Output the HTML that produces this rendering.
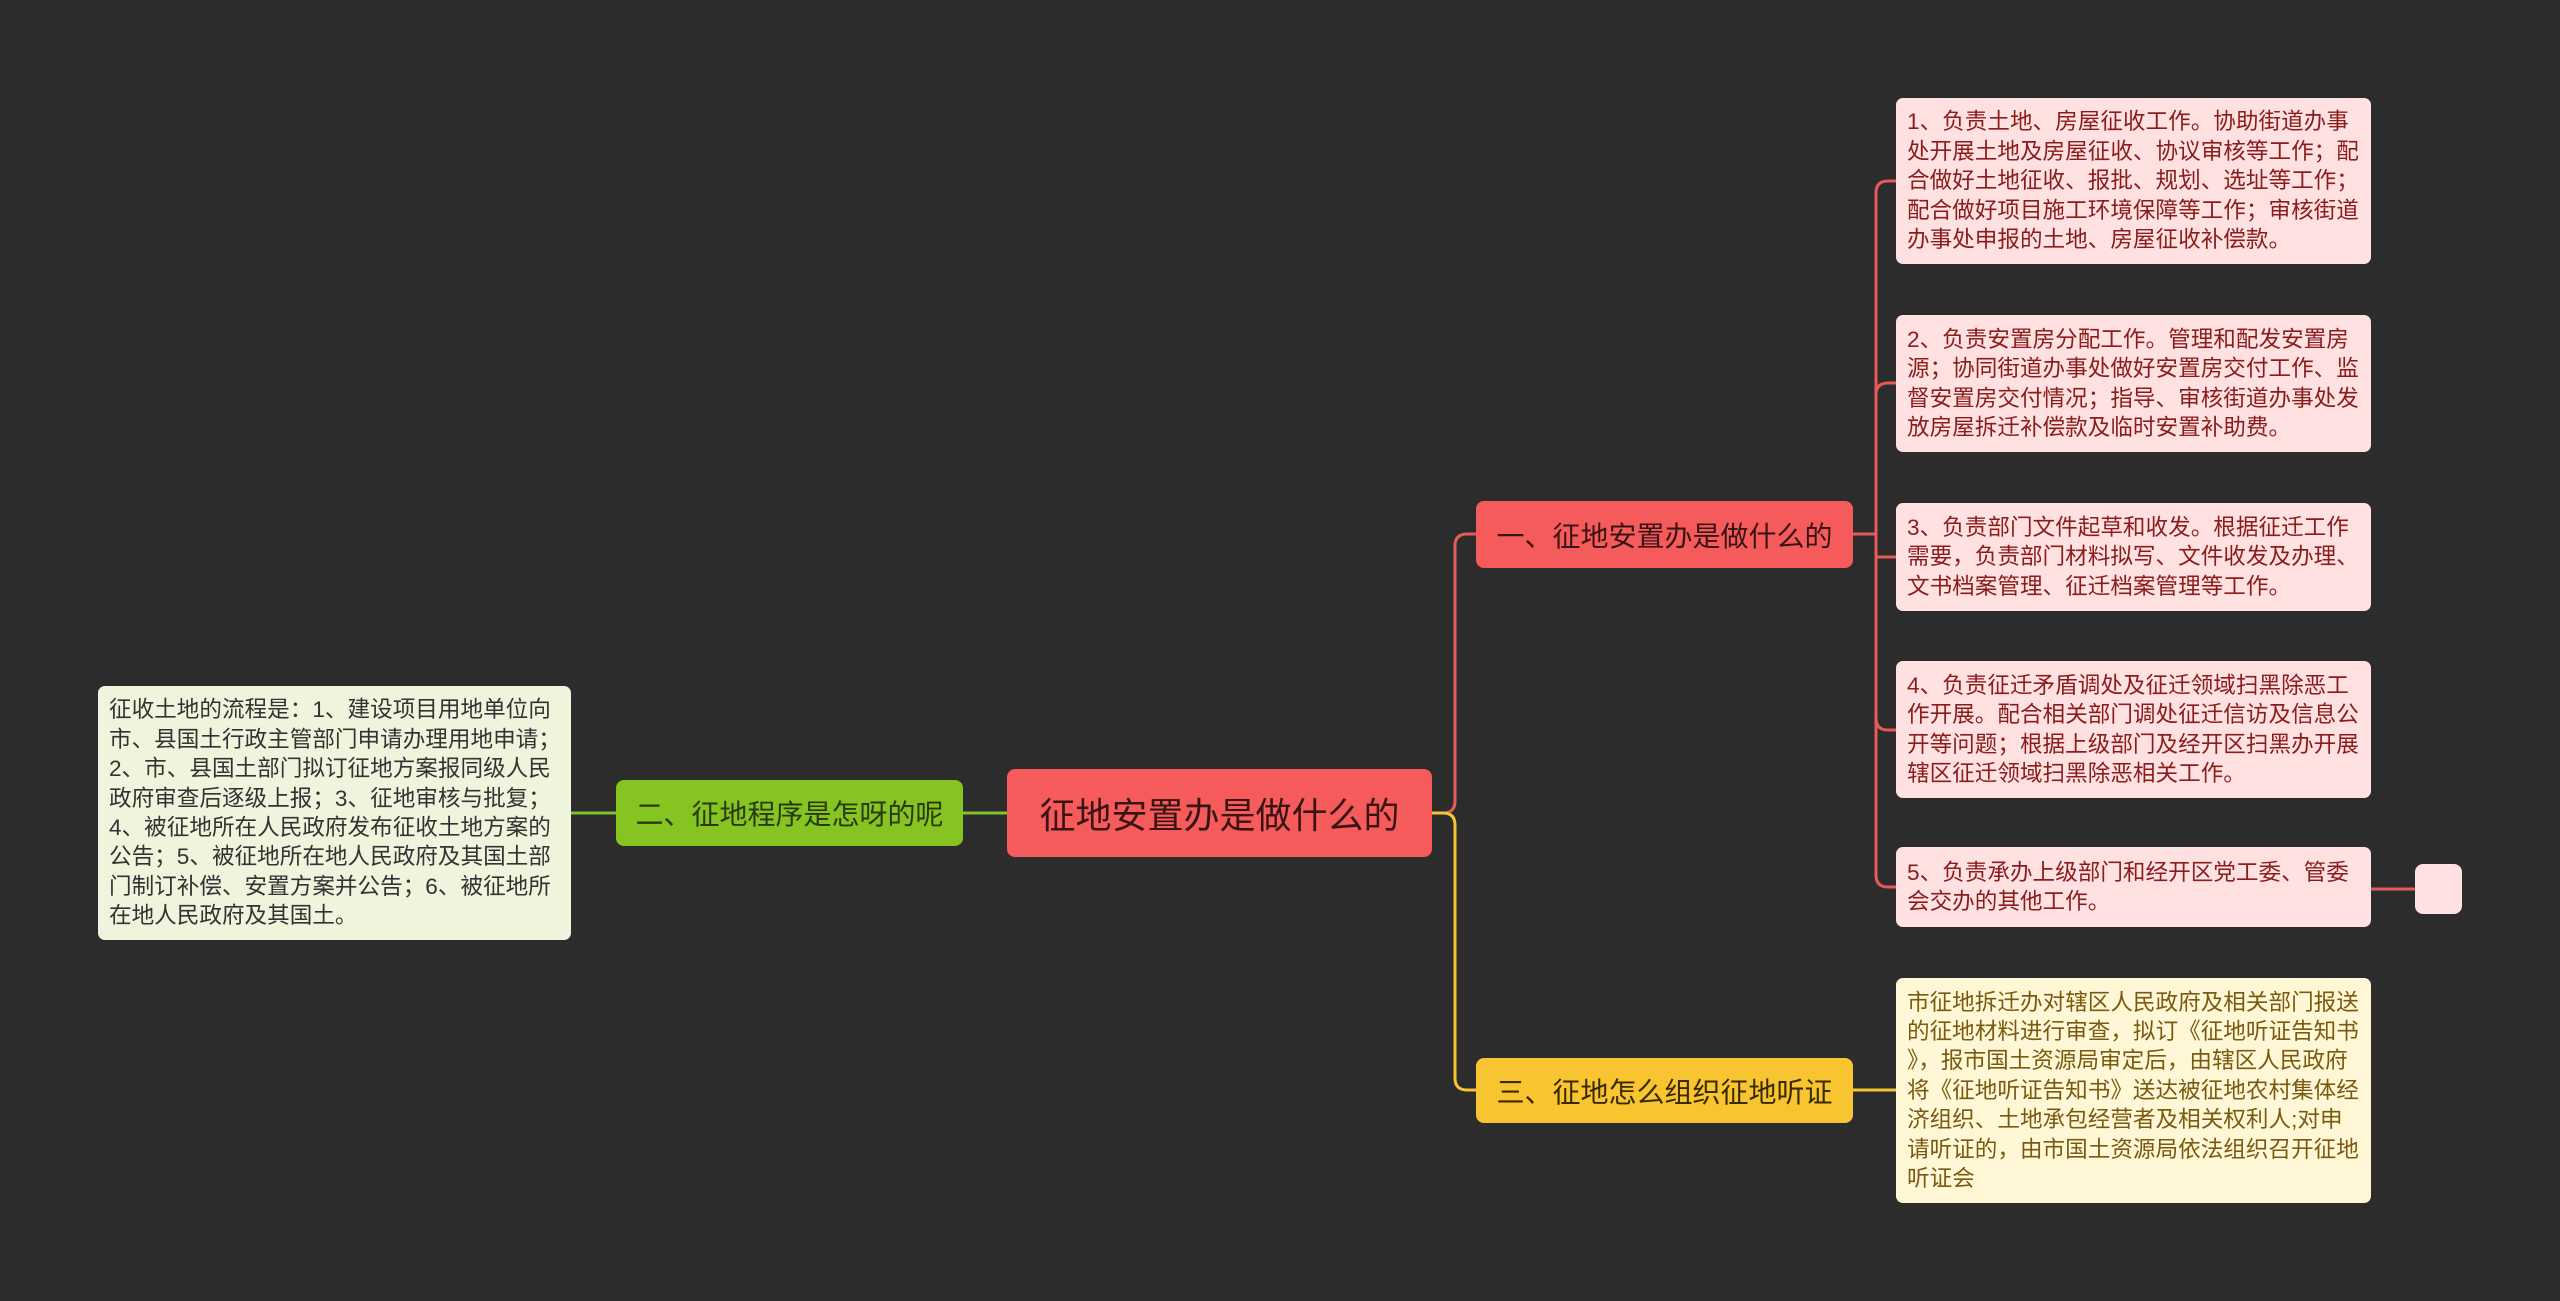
<!DOCTYPE html>
<html><head><meta charset="utf-8"><style>
body{margin:0;width:2560px;height:1301px;background:#2c2c2c;overflow:hidden;position:relative;font-family:"Liberation Sans","Noto Sans CJK SC",sans-serif}
.n{position:absolute;box-sizing:border-box;border-radius:8px;display:flex;align-items:center;white-space:nowrap}
.leaf{font-size:22.6px;line-height:29.4px;padding:0 11px;border-radius:7px}
.r{background:#ffe1e1;color:#8a1c1c}
svg{position:absolute;left:0;top:0}
</style></head><body>
<svg width="2560" height="1301" fill="none" stroke-width="3">
<g stroke="#e65a5a">
<path d="M1432 813 H1443 Q1455 813 1455 801 V546 Q1455 534 1467 534 H1476"/>
<path d="M1853 534 H1876"/>
<path d="M1876 534 V193 Q1876 181 1888 181 H1896"/>
<path d="M1876 534 V395 Q1876 383 1888 383 H1896"/>
<path d="M1876 534 V557 H1896"/>
<path d="M1876 534 V718 Q1876 730 1888 730 H1896"/>
<path d="M1876 534 V875 Q1876 887 1888 887 H1896"/>
<path d="M2371 889 H2415"/>
</g>
<g stroke="#f2c531">
<path d="M1432 813 H1443 Q1455 813 1455 825 V1078 Q1455 1090 1467 1090 H1476"/>
<path d="M1853 1090 H1896"/>
</g>
<g stroke="#86c22a">
<path d="M963 813 H1007"/>
<path d="M571 813 H616"/>
</g>
</svg>
<div class="n" style="left:1007px;top:769px;width:425px;height:88px;background:#f65b5b;color:#3a1414;font-size:36px;justify-content:center">征地安置办是做什么的</div>
<div class="n" style="left:1476px;top:501px;width:377px;height:67px;background:#f65b5b;color:#3a1414;font-size:28px;justify-content:center">一、征地安置办是做什么的</div>
<div class="n" style="left:616px;top:780px;width:347px;height:66px;background:#86c422;color:#2a3a10;font-size:28px;justify-content:center">二、征地程序是怎呀的呢</div>
<div class="n" style="left:1476px;top:1058px;width:377px;height:65px;background:#f8c531;color:#3a2a00;font-size:28px;justify-content:center">三、征地怎么组织征地听证</div>
<div class="n leaf" style="left:98px;top:686px;width:473px;height:254px;background:#eef5dc;color:#333">征收土地的流程是：1、建设项目用地单位向<br>市、县国土行政主管部门申请办理用地申请；<br>2、市、县国土部门拟订征地方案报同级人民<br>政府审查后逐级上报；3、征地审核与批复；<br>4、被征地所在人民政府发布征收土地方案的<br>公告；5、被征地所在地人民政府及其国土部<br>门制订补偿、安置方案并公告；6、被征地所<br>在地人民政府及其国土。</div>
<div class="n leaf r" style="left:1896px;top:98px;width:475px;height:166px">1、负责土地、房屋征收工作。协助街道办事<br>处开展土地及房屋征收、协议审核等工作；配<br>合做好土地征收、报批、规划、选址等工作；<br>配合做好项目施工环境保障等工作；审核街道<br>办事处申报的土地、房屋征收补偿款。</div>
<div class="n leaf r" style="left:1896px;top:315px;width:475px;height:137px">2、负责安置房分配工作。管理和配发安置房<br>源；协同街道办事处做好安置房交付工作、监<br>督安置房交付情况；指导、审核街道办事处发<br>放房屋拆迁补偿款及临时安置补助费。</div>
<div class="n leaf r" style="left:1896px;top:503px;width:475px;height:108px">3、负责部门文件起草和收发。根据征迁工作<br>需要，负责部门材料拟写、文件收发及办理、<br>文书档案管理、征迁档案管理等工作。</div>
<div class="n leaf r" style="left:1896px;top:661px;width:475px;height:137px">4、负责征迁矛盾调处及征迁领域扫黑除恶工<br>作开展。配合相关部门调处征迁信访及信息公<br>开等问题；根据上级部门及经开区扫黑办开展<br>辖区征迁领域扫黑除恶相关工作。</div>
<div class="n leaf r" style="left:1896px;top:847px;width:475px;height:80px">5、负责承办上级部门和经开区党工委、管委<br>会交办的其他工作。</div>
<div class="n r" style="left:2415px;top:864px;width:47px;height:50px"></div>
<div class="n leaf" style="left:1896px;top:978px;width:475px;height:225px;background:#fff7d6;color:#7a5a10">市征地拆迁办对辖区人民政府及相关部门报送<br>的征地材料进行审查，拟订《征地听证告知书<br>》，报市国土资源局审定后，由辖区人民政府<br>将《征地听证告知书》送达被征地农村集体经<br>济组织、土地承包经营者及相关权利人;对申<br>请听证的，由市国土资源局依法组织召开征地<br>听证会</div>
</body></html>
